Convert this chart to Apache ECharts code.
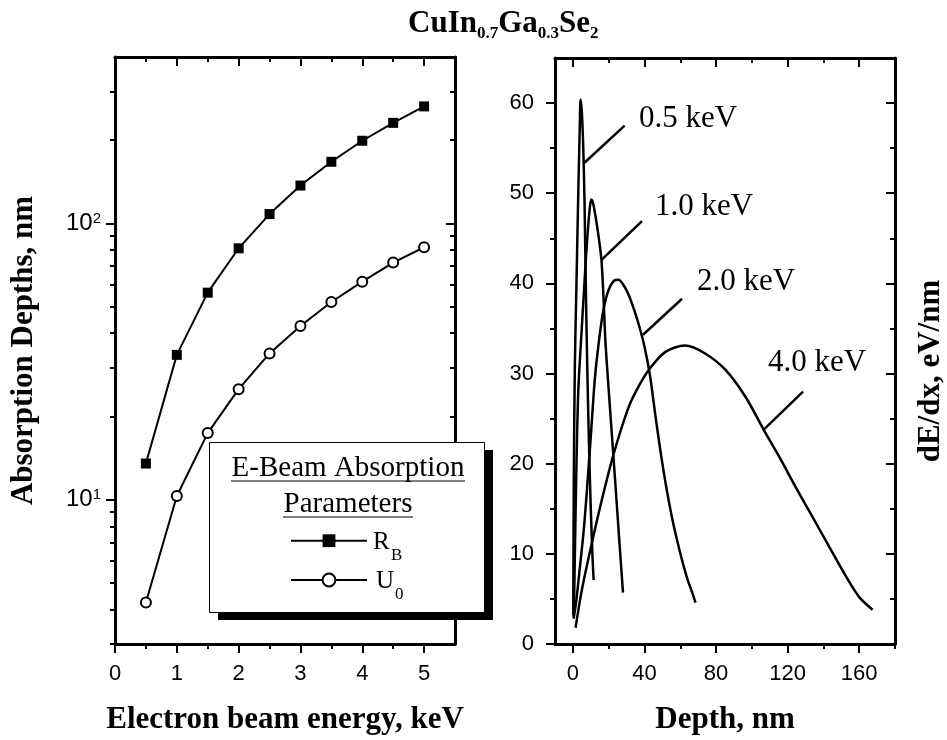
<!DOCTYPE html>
<html>
<head>
<meta charset="utf-8">
<script src="https://cdn.jsdelivr.net/npm/echarts@6/dist/echarts.min.js"></script>
<style>
html, body { margin: 0; padding: 0; background: #fff; }
#chart { width: 947px; height: 740px; }
</style>
</head>
<body>
<div id="chart"></div>
<script>
// 左图：吸收深度 vs 电子束能量
var energies = [0.5, 1, 1.5, 2, 2.5, 3, 3.5, 4, 4.5, 5];
var rbValues = [13.5, 33.4, 56.1, 81.2, 108, 137, 167, 199, 231, 265];
var u0Values = [4.24, 10.3, 17.4, 25.1, 33.8, 42.5, 51.9, 61.5, 72.1, 81.9];

// 右图：dE/dx vs 深度
var depth05 = [0.2, 0.5, 1.1, 2.0, 3.0, 3.8, 4.3, 5.0, 5.8, 6.5, 7.2, 8.0, 9.0, 10.0, 11.0, 11.6];
var dedx05 = [3.2, 18, 31, 40, 50, 57, 60.4, 59, 55, 49, 40, 31, 22, 15, 9.5, 7.1];
var depth10 = [0.5, 1.2, 2.0, 3.0, 4.5, 6.0, 7.5, 8.8, 9.7, 10.4, 11.5, 13.0, 14.5, 16.0, 17.2, 18.2, 20.0, 22.0, 24.0, 26.0, 28.0];
var dedx10 = [2.8, 11, 20, 28, 33.5, 38.5, 43.5, 47, 48.8, 49.3, 48.7, 47, 45, 42.5, 38, 33.5, 28.2, 22.6, 17, 11.3, 5.7];
var depth20 = [0.5, 1.7, 3.9, 6.0, 7.7, 10.0, 12.3, 14.5, 17.0, 20.0, 23.0, 25.5, 28.0, 31.0, 34.0, 37.0, 40.0, 43.0, 46.0, 49.0, 52.0, 55.0, 58.0, 61.0, 64.0, 66.5, 68.5];
var dedx20 = [3.0, 4.5, 8.5, 12.5, 16.7, 23, 29.5, 33.5, 37, 39.3, 40.3, 40.4, 39.9, 38.8, 37.2, 35.3, 33.0, 29.9, 25.5, 21.3, 17.6, 14.4, 11.7, 9.3, 7.2, 5.8, 4.6];
var depth40 = [1.5, 5.0, 10.6, 16.2, 22.8, 31.2, 36.8, 42.4, 51.7, 62.6, 74.1, 85.3, 96.5, 106.8, 115.2, 124.5, 133.9, 143.2, 152.6, 160.0, 167.5];
var dedx40 = [1.8, 6.0, 11.2, 16.0, 21.1, 26.3, 28.6, 30.4, 32.4, 33.1, 32.2, 30.4, 27.4, 23.7, 20.8, 17.4, 14.1, 10.8, 7.5, 5.2, 3.8];
var curveNames = ['0.5 keV', '1.0 keV', '2.0 keV', '4.0 keV'];

// 标注引线（数据坐标）
var pointer05 = [[28.9, 57.5], [6.0, 53.3]];
var pointer10 = [[38.6, 46.9], [16.0, 42.6]];
var pointer20 = [[61.0, 38.3], [39.2, 34.3]];
var pointer40 = [[128.6, 28.0], [106.8, 23.8]];

// 刻度
var energyTicks = [0, 1, 2, 3, 4, 5];
var energyMinorTicks = [0.5, 1.5, 2.5, 3.5, 4.5];
var absTicks = [10, 100];
var absMinorTicks = [3, 4, 5, 6, 7, 8, 9, 20, 30, 40, 50, 60, 70, 80, 90, 200, 300];
var depthTicks = [0, 40, 80, 120, 160];
var depthMinorTicks = [20, 60, 100, 140, 180];
var dedxTicks = [0, 10, 20, 30, 40, 50, 60];
var dedxMinorTicks = [5, 15, 25, 35, 45, 55];

var black = '#000';
var serif = 'Liberation Serif';
var sans = 'Liberation Sans';

function zip(xs, ys) {
    return xs.map(function (x, i) { return [x, ys[i]]; });
}

// 每一边两条轴：主刻度 + 次刻度
function tickAxes(gridIndex, position, base, major, minor, inside, extra) {
    var a = Object.assign({
        gridIndex: gridIndex,
        position: position,
        axisLine: { show: true, onZero: false, lineStyle: { color: black, width: 3 } },
        axisTick: { show: true, inside: inside, length: 9, customValues: major, lineStyle: { color: black, width: 2 } },
        axisLabel: { show: false },
        splitLine: { show: false }
    }, base, extra || {});
    var b = Object.assign({
        gridIndex: gridIndex,
        position: position,
        axisLine: { show: false, onZero: false },
        axisTick: { show: true, inside: inside, length: 5, customValues: minor, lineStyle: { color: black, width: 2 } },
        axisLabel: { show: false },
        splitLine: { show: false }
    }, base);
    return [a, b];
}

var nameStyle = { fontFamily: serif, fontWeight: 'bold', fontSize: 31, color: black };
var labelStyle = { color: black, fontFamily: sans, fontSize: 22 };

var xLeft = { type: 'value', min: 0, max: 5.5 };
var yLeft = { type: 'log', logBase: 10, min: 3, max: 400 };
var xRight = { type: 'value', min: -10, max: 180 };
var yRight = { type: 'value', min: 0, max: 65 };

var xAxes = [].concat(
    tickAxes(0, 'bottom', xLeft, energyTicks, energyMinorTicks, false, {
        axisLabel: Object.assign({ show: true, customValues: energyTicks, margin: 19 }, labelStyle),
        name: 'Electron beam energy, keV', nameLocation: 'middle', nameGap: 60, nameTextStyle: nameStyle
    }),
    tickAxes(0, 'top', xLeft, energyTicks, energyMinorTicks, true),
    tickAxes(1, 'bottom', xRight, depthTicks, depthMinorTicks, false, {
        axisLabel: Object.assign({ show: true, customValues: depthTicks, margin: 19 }, labelStyle),
        name: 'Depth, nm', nameLocation: 'middle', nameGap: 60, nameTextStyle: nameStyle
    }),
    tickAxes(1, 'top', xRight, depthTicks, depthMinorTicks, true)
);

var yAxes = [].concat(
    tickAxes(0, 'left', yLeft, absTicks, absMinorTicks, false, {
        axisLabel: Object.assign({}, labelStyle, {
            show: true, customValues: absTicks, margin: 14, fontSize: 24, lineHeight: 24,
            formatter: function (v) {
                return '10{sup|' + Math.round(Math.log(v) / Math.LN10) + '}';
            },
            rich: { sup: { fontFamily: sans, fontSize: 15, lineHeight: 6, verticalAlign: 'top', color: black } }
        }),
        name: 'Absorption Depths, nm', nameLocation: 'middle', nameGap: 76, nameRotate: 90, nameTextStyle: nameStyle
    }),
    tickAxes(0, 'right', yLeft, absTicks, absMinorTicks, true),
    tickAxes(1, 'left', yRight, dedxTicks, dedxMinorTicks, false, {
        axisLabel: Object.assign({ show: true, customValues: dedxTicks, margin: 21 }, labelStyle)
    }),
    tickAxes(1, 'right', yRight, dedxTicks, dedxMinorTicks, true, {
        name: 'dE/dx, eV/nm', nameLocation: 'middle', nameGap: 20, nameRotate: 90,
        nameTextStyle: Object.assign({ padding: [0, 40, 0, 0] }, nameStyle)
    })
);

var curveSeries = [[depth05, dedx05], [depth10, dedx10], [depth20, dedx20], [depth40, dedx40]].map(function (c, i) {
    return {
        name: curveNames[i],
        type: 'line',
        xAxisIndex: 4,
        yAxisIndex: 4,
        data: zip(c[0], c[1]),
        showSymbol: false,
        smooth: 0.3,
        lineStyle: { color: black, width: 2.5 },
        silent: true
    };
});

var pointerSeries = [pointer05, pointer10, pointer20, pointer40].map(function (p) {
    return {
        type: 'line',
        xAxisIndex: 4,
        yAxisIndex: 4,
        data: p,
        showSymbol: false,
        lineStyle: { color: black, width: 2.5 },
        silent: true
    };
});

function text(str, x, y, size, align) {
    return {
        type: 'text', z: 12,
        style: { text: str, x: x, y: y, align: align || 'left', verticalAlign: 'middle', font: size + 'px "Liberation Serif"', fill: black }
    };
}

var legendBase = { left: 285, itemWidth: 76, itemHeight: 16, z: 20, selectedMode: false, formatter: function () { return ''; } };

var chart = echarts.init(document.getElementById('chart'));
chart.setOption({
    animation: false,
    backgroundColor: '#fff',
    title: {
        text: '{b|CuIn}{s|0.7}{b|Ga}{s|0.3}{b|Se}{s|2}',
        left: 403,
        top: 1,
        textStyle: {
            rich: {
                b: { fontFamily: serif, fontWeight: 'bold', fontSize: 31, lineHeight: 36, color: black },
                s: { fontFamily: serif, fontWeight: 'bold', fontSize: 17, lineHeight: 7, verticalAlign: 'bottom', color: black }
            }
        }
    },
    grid: [
        { left: 115, top: 57, width: 340, height: 588 },
        { left: 555, top: 58, width: 342, height: 587 }
    ],
    xAxis: xAxes,
    yAxis: yAxes,
    legend: [
        Object.assign({ data: ['RB'], top: 527.7 }, legendBase),
        Object.assign({ data: ['U0'], top: 567 }, legendBase)
    ],
    graphic: [
        { type: 'rect', z: 10, shape: { x: 218, y: 450, width: 275, height: 170 }, style: { fill: black } },
        { type: 'rect', z: 11, shape: { x: 209.5, y: 442.5, width: 275, height: 170 }, style: { fill: '#fff', stroke: black, lineWidth: 1 } },
        text('E-Beam Absorption', 348, 468.7, 29, 'center'),
        { type: 'line', z: 12, shape: { x1: 231, y1: 481, x2: 465, y2: 481 }, style: { stroke: black, lineWidth: 1 } },
        text('Parameters', 348, 504.4, 29, 'center'),
        { type: 'line', z: 12, shape: { x1: 283, y1: 517, x2: 413, y2: 517 }, style: { stroke: black, lineWidth: 1 } },
        text('R', 373, 542.8, 25),
        text('B', 391, 556, 17),
        text('U', 376, 581.7, 25),
        text('0', 395, 594.4, 17),
        text(curveNames[0], 639, 118.8, 31),
        text(curveNames[1], 655, 206.8, 31),
        text(curveNames[2], 697, 281.8, 31),
        text(curveNames[3], 768, 362.8, 31)
    ],
    series: [
        {
            name: 'RB',
            type: 'line',
            xAxisIndex: 0,
            yAxisIndex: 0,
            data: zip(energies, rbValues),
            symbol: 'rect',
            symbolSize: 10,
            lineStyle: { color: black, width: 2 },
            itemStyle: { color: black }
        },
        {
            name: 'U0',
            type: 'line',
            xAxisIndex: 0,
            yAxisIndex: 0,
            data: zip(energies, u0Values),
            symbol: 'circle',
            symbolSize: 10,
            lineStyle: { color: black, width: 2 },
            itemStyle: { color: '#fff', borderColor: black, borderWidth: 2 }
        }
    ].concat(curveSeries, pointerSeries)
});
</script>
</body>
</html>
